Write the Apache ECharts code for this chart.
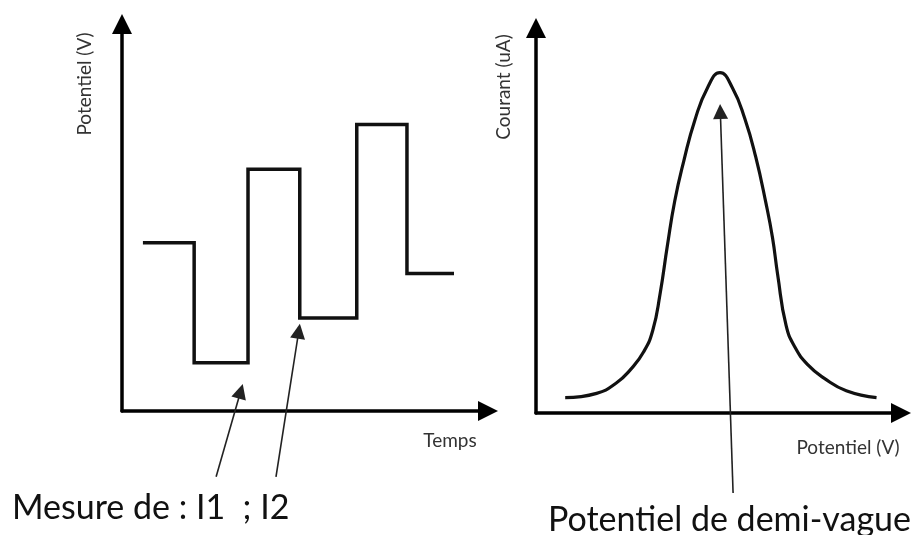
<!DOCTYPE html>
<html>
<head>
<meta charset="utf-8">
<script src="https://cdn.jsdelivr.net/npm/echarts@6/dist/echarts.min.js"></script>
<style>
html,body{margin:0;padding:0;background:#fff;}
#c{width:913px;height:535px;}
</style>
</head>
<body>
<div id="c"></div>
<script>
// ---- Left panel: pulse potential vs time ----
var pulseTimes = [0.4, 1.38, 2.41, 3.4, 4.49, 5.45, 6.35];
var pulseLevels = [4.35, 1.25, 6.25, 2.4, 7.4, 3.55];

// ---- Right panel: current vs potential ----
var peakPotential = [0.80, 1.66, 2.20, 2.60, 2.95, 3.20, 3.40, 3.60, 3.80, 4.05, 4.35, 4.70, 5.04,
                     5.38, 5.72, 6.02, 6.30, 6.48, 6.62, 6.85, 7.10, 7.45, 7.90, 8.50, 9.33];
var peakCurrent   = [0.40, 0.51, 0.78, 1.14, 1.59, 2.15, 3.10, 4.35, 5.50, 6.55, 7.60, 8.45, 8.84,
                     8.45, 7.65, 6.65, 5.45, 4.55, 3.60, 2.28, 1.70, 1.25, 0.90, 0.58, 0.40];

// ---- Annotation arrows (data coordinates: tail -> head) ----
var leftArrows = [
  [[1.80, -1.70], [2.27, 0.51]],
  [[2.945, -1.70], [3.38, 2.06]]
];
var rightArrows = [
  [[5.40, -2.08], [5.05, 7.83]]
];

// ---- Texts ----
var leftYName = 'Potentiel (V)';
var leftXName = 'Temps';
var rightYName = 'Courant (uA)';
var rightXName = 'Potentiel (V)';
var leftNote = 'Mesure de : I1  ; I2';
var rightNote = 'Potentiel de demi-vague';

var stepData = pulseTimes.map(function (t, i) {
  return [t, pulseLevels[Math.min(i, pulseLevels.length - 1)]];
});
var peakData = peakPotential.map(function (x, i) { return [x, peakCurrent[i]]; });

function axisCommon(extra) {
  var a = {
    type: 'value',
    axisLine: { show: true, onZero: true, symbol: ['none', 'triangle'], symbolSize: [20, 20],
                lineStyle: { color: '#000', width: 3.5 } },
    axisTick: { show: false },
    axisLabel: { show: false },
    splitLine: { show: false }
  };
  for (var k in extra) a[k] = extra[k];
  return a;
}

var font = 'Lato, "Open Sans", sans-serif';
var chart = echarts.init(document.getElementById('c'), null, { renderer: 'canvas' });
chart.setOption({
  backgroundColor: '#fff',
  animation: false,
  grid: [
    { left: 122, top: 24, width: 366, height: 387 },
    { left: 536, top: 28, width: 365, height: 385 }
  ],
  xAxis: [
    axisCommon({ gridIndex: 0, min: 0, max: 7 }),
    axisCommon({ gridIndex: 1, min: 0, max: 10 })
  ],
  yAxis: [
    axisCommon({ gridIndex: 0, min: 0, max: 10 }),
    axisCommon({ gridIndex: 1, min: 0, max: 10 })
  ],
  series: [
    {
      type: 'line', xAxisIndex: 0, yAxisIndex: 0, step: 'end',
      data: stepData, showSymbol: false, symbol: 'none',
      lineStyle: { color: '#111', width: 3.5, join: 'miter' }
    },
    {
      type: 'line', xAxisIndex: 1, yAxisIndex: 1, smooth: 0.5,
      data: peakData, showSymbol: false, symbol: 'none',
      lineStyle: { color: '#111', width: 3.2 }
    },
    {
      type: 'lines', coordinateSystem: 'cartesian2d', xAxisIndex: 0, yAxisIndex: 0,
      clip: false, symbol: ['none', 'triangle'], symbolSize: [15, 15],
      lineStyle: { color: '#222', width: 1.6, opacity: 1, curveness: 0 },
      data: leftArrows.map(function (a) { return { coords: a }; }), z: 5
    },
    {
      type: 'lines', coordinateSystem: 'cartesian2d', xAxisIndex: 1, yAxisIndex: 1,
      clip: false, symbol: ['none', 'triangle'], symbolSize: [15, 15],
      lineStyle: { color: '#222', width: 1.6, opacity: 1, curveness: 0 },
      data: rightArrows.map(function (a) { return { coords: a }; }), z: 5
    }
  ],
  graphic: [
    { type: 'text', x: 85, y: 84, rotation: Math.PI / 2,
      style: { text: leftYName, font: '19px ' + font, fill: '#333', align: 'center', verticalAlign: 'middle' } },
    { type: 'text', x: 450, y: 441,
      style: { text: leftXName, font: '19px ' + font, fill: '#333', align: 'center', verticalAlign: 'middle' } },
    { type: 'text', x: 504, y: 87, rotation: Math.PI / 2,
      style: { text: rightYName, font: '19px ' + font, fill: '#333', align: 'center', verticalAlign: 'middle' } },
    { type: 'text', x: 848, y: 448,
      style: { text: rightXName, font: '19px ' + font, fill: '#333', align: 'center', verticalAlign: 'middle' } },
    { type: 'text', x: 12, y: 508,
      style: { text: leftNote, font: '34px ' + font, fill: '#111', align: 'left', verticalAlign: 'middle' } },
    { type: 'text', x: 548, y: 520,
      style: { text: rightNote, font: '34px ' + font, fill: '#111', align: 'left', verticalAlign: 'middle' } }
  ]
});
</script>
</body>
</html>
